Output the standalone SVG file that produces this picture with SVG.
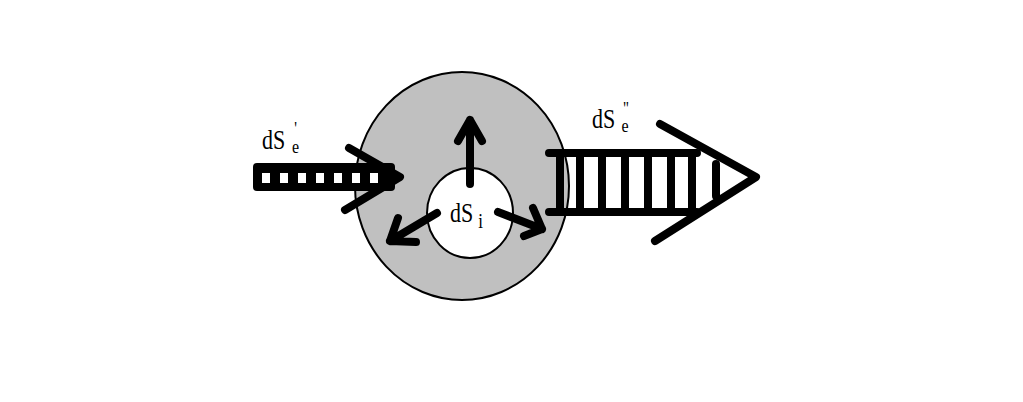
<svg xmlns="http://www.w3.org/2000/svg" width="1023" height="402" viewBox="0 0 1023 402">
<style>
.ln{stroke:#000;stroke-width:8;stroke-linecap:round;stroke-linejoin:round;fill:none}
.lbl{font-family:"Liberation Serif",serif;fill:#000}
</style>
<rect width="1023" height="402" fill="#fff"/>
<g id="outer">
<ellipse cx="462" cy="186" rx="107" ry="114" fill="#c0c0c0" stroke="#000" stroke-width="2"/>
</g>
<g id="inner">
<ellipse cx="470" cy="213" rx="43" ry="45" fill="#fff" stroke="#000" stroke-width="2"/>
<text class="lbl" transform="translate(450,222) scale(1,1.2)" font-size="22">dS<tspan font-size="17" dx="5" dy="5">i</tspan></text>
</g>
<g id="connectors">
<path class="ln" d="M470 184 V120 M458 141 L470 120 L482 141"/>
<path class="ln" d="M437 213 L390 241 M398 218 L390 241 L416 242"/>
<path class="ln" d="M498 212 L542 229 M533 208 L542 229 L524 236"/>
<g id="in-arrow">
<rect x="253" y="163" width="142" height="28" rx="4" fill="#000"/>
<g fill="#fff">
<rect x="262" y="173" width="8" height="10"/>
<rect x="280" y="173" width="8" height="10"/>
<rect x="298" y="173" width="8" height="10"/>
<rect x="316" y="173" width="8" height="10"/>
<rect x="334" y="173" width="8" height="10"/>
<rect x="352" y="173" width="8" height="10"/>
<rect x="370" y="173" width="8" height="10"/>
</g>
<path class="ln" d="M349 148 L400 177 L345 210"/>
</g>
<g id="out-arrow">
<path class="ln" d="M549 153 H697 M549 212 H697"/>
<path class="ln" d="M560 153 V212 M580 153 V212 M602 153 V212 M625 153 V212 M648 153 V212 M671 153 V212 M692 153 V212 M716 164 V196" stroke-linecap="butt"/>
<path class="ln" d="M660 124 L756 177 L655 241"/>
</g>
</g>
<g id="labels">
<text class="lbl" transform="translate(262,149) scale(1,1.2)" font-size="22">dS<tspan font-size="15" dx="9" dy="-12">'</tspan><tspan font-size="16" dx="-5" dy="15.5">e</tspan></text>
<text class="lbl" transform="translate(592,128) scale(1,1.2)" font-size="22">dS<tspan font-size="15" dx="8" dy="-10.5">''</tspan><tspan font-size="16" dx="-7" dy="14">e</tspan></text>
</g>
</svg>
